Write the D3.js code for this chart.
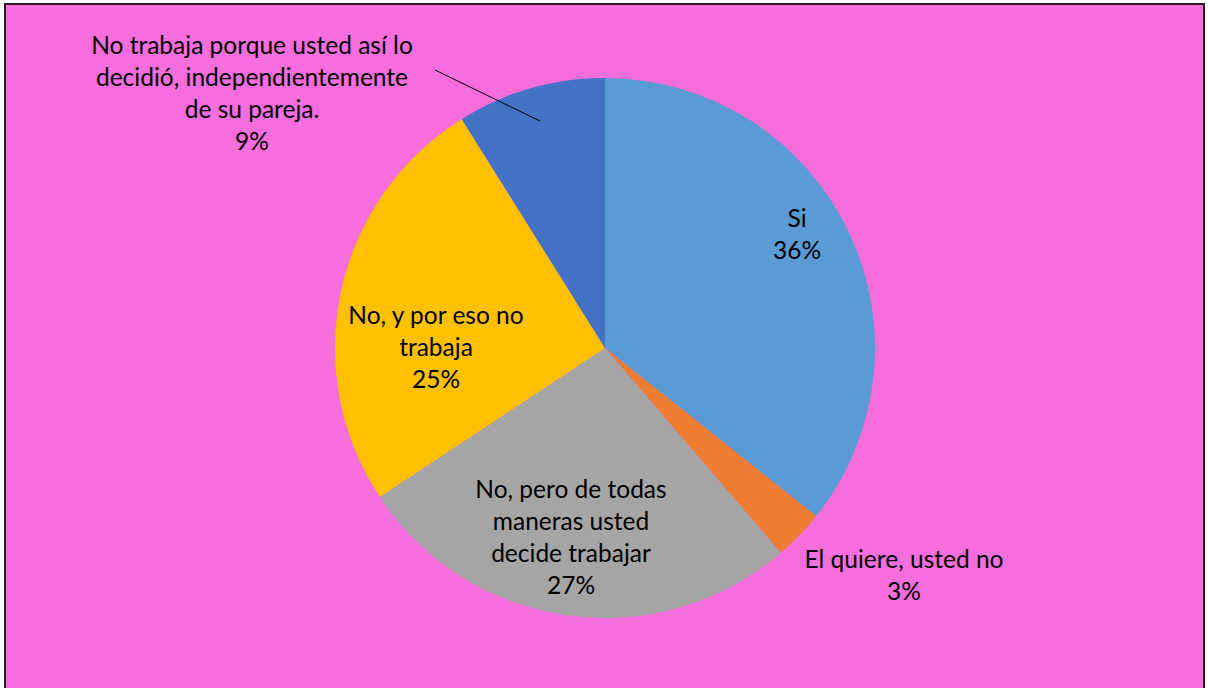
<!DOCTYPE html>
<html><head><meta charset="utf-8">
<script src="https://cdn.jsdelivr.net/npm/d3@7"></script>
<style>html,body{margin:0;padding:0;background:#fff;}svg{display:block;}</style>
</head><body>
<svg id="c" width="1208" height="688"></svg>
<script>
const categories = [
  "Si",
  "El quiere, usted no",
  "No, pero de todas maneras usted decide trabajar",
  "No, y por eso no trabaja",
  "No trabaja porque usted así lo decidió, independientemente de su pareja."
];
const values = [35.7, 3.0, 27.0, 25.4, 8.9];
const colors = ["#5B9BD5", "#ED7D31", "#A5A5A5", "#FFC000", "#4472C4"];
// label line breaks (text)
const labelLines = [
  ["Si"],
  ["El quiere, usted no"],
  ["No, pero de todas", "maneras usted", "decide trabajar"],
  ["No, y por eso no", "trabaja"],
  ["No trabaja porque usted así lo", "decidió, independientemente", "de su pareja."]
];
// layout (positions of label block centers)
const labelPos = [[797, 234], [904, 575], [571, 537], [436, 347], [252, 93]];

const svg = d3.select("#c");
svg.append("rect").attr("x", 5).attr("y", 4).attr("width", 1199).attr("height", 700)
  .attr("fill", "#F66EDC").attr("stroke", "#2a1a26").attr("stroke-width", 2);

const cx = 605, cy = 348, R = 270;
const total = d3.sum(values);
const pie = d3.pie().sort(null).value(d => d)(values);
const arc = d3.arc().innerRadius(0).outerRadius(R);
const g = svg.append("g").attr("transform", `translate(${cx},${cy})`);
g.selectAll("path").data(pie).join("path")
  .attr("d", arc).attr("fill", (d, i) => colors[i]);

// leader line for the last slice
const last = pie[4];
const inner = d3.arc().innerRadius(R * 0.875).outerRadius(R * 0.875).centroid(last);
svg.append("line")
  .attr("x1", 435).attr("y1", 70)
  .attr("x2", cx + inner[0]).attr("y2", cy + inner[1])
  .attr("stroke", "#000").attr("stroke-width", 1);

const lh = 32;
const font = "Lato, 'Open Sans', sans-serif";
labelLines.forEach((lines, i) => {
  const all = lines.concat([Math.round(values[i] / total * 100) + "%"]);
  const [x, y] = labelPos[i];
  const t = svg.append("text").attr("text-anchor", "middle")
    .attr("font-family", font).attr("font-size", 24.5).attr("fill", "#000");
  all.forEach((s, k) => {
    t.append("tspan").attr("x", x)
      .attr("y", y + (k - (all.length - 1) / 2) * lh)
      .attr("dy", "0.35em").text(s);
  });
});
</script>
</body></html>
